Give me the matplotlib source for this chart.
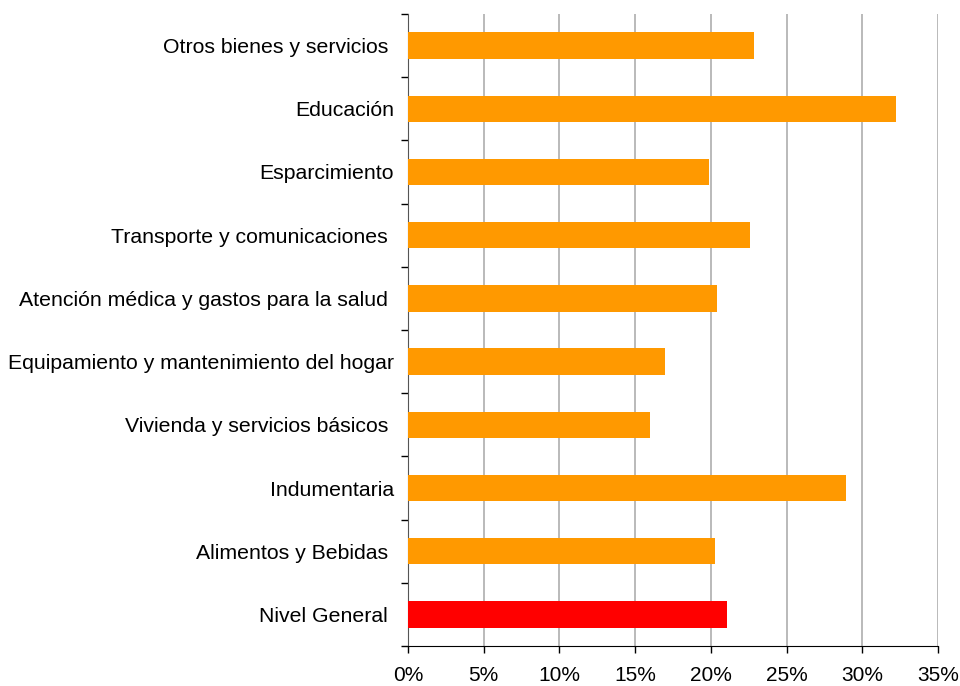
import matplotlib.pyplot as plt
import numpy as np
from matplotlib.ticker import FixedLocator, PercentFormatter

# categories from bottom to top
categories = [
    "Nivel General ",
    "Alimentos y Bebidas ",
    "Indumentaria",
    "Vivienda y servicios básicos ",
    "Equipamiento y mantenimiento del hogar",
    "Atención médica y gastos para la salud ",
    "Transporte y comunicaciones ",
    "Esparcimiento",
    "Educación",
    "Otros bienes y servicios ",
]
values = [21.1, 20.3, 28.9, 16.0, 17.0, 20.4, 22.6, 19.9, 32.2, 22.85]
bar_colors = ["#FF0000"] + ["#FF9900"] * 9

plt.rcParams['font.family'] = ['Liberation Sans', 'DejaVu Sans']

fig = plt.figure(figsize=(9.6, 6.86), dpi=100)
ax = fig.add_axes([0.425, 0.0583, 0.552, 0.9213])

y = np.arange(len(categories))
ax.barh(y, values, height=0.42, color=bar_colors, zorder=3)

ax.set_xlim(0, 35)
ax.set_ylim(-0.5, len(categories) - 0.5)
ax.set_xticks(np.arange(0, 36, 5))
ax.xaxis.set_major_formatter(PercentFormatter(decimals=0))
ax.set_yticks(y)
ax.set_yticklabels(categories)
ax.yaxis.set_minor_locator(FixedLocator(np.arange(-0.5, len(categories), 1.0)))

ax.tick_params(axis='y', which='major', length=0, pad=10, labelsize=15.3)
ax.tick_params(axis='y', which='minor', length=5, width=1, direction='out')
ax.tick_params(axis='x', length=5, width=1, direction='out', pad=9.5, labelsize=15)

ax.xaxis.grid(True, color='#b4b4b4', linewidth=1.3, zorder=0)
ax.set_axisbelow(True)

for side in ['top', 'right']:
    ax.spines[side].set_visible(False)
ax.spines['left'].set_color('#555555')
ax.spines['bottom'].set_color('#000000')

plt.savefig('out.png', dpi=100)
